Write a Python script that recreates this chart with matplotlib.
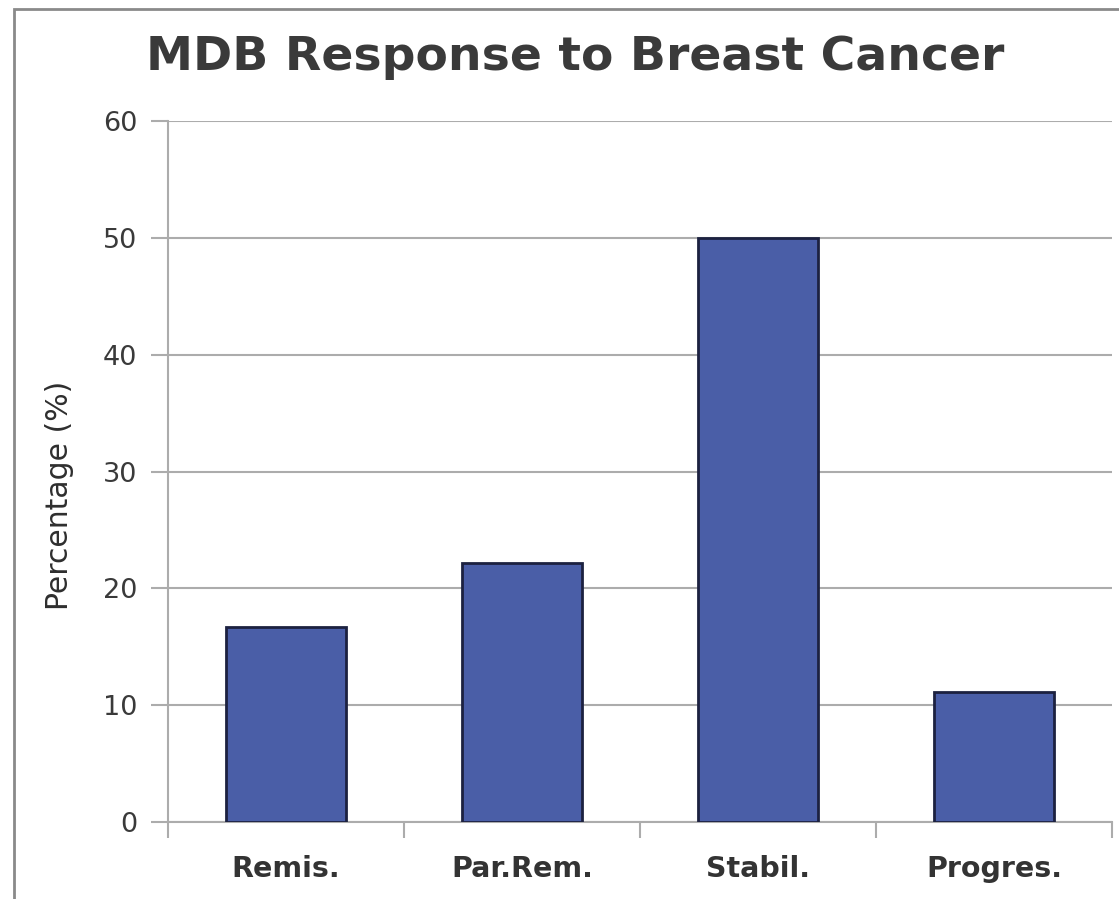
import matplotlib
matplotlib.use("Agg")
import matplotlib.pyplot as plt
from matplotlib.patches import Rectangle
import numpy as np

# Response categories and the share of patients in each (%)
categories = ["Remis.", "Par.Rem.", "Stabil.", "Progres."]
percentages = [16.7, 22.2, 50.0, 11.1]
y_ticks = [0, 10, 20, 30, 40, 50, 60]

title = "MDB Response to Breast Cancer"
y_label = "Percentage (%)"

plt.rcParams["font.family"] = ["DejaVu Sans"]

fig = plt.figure(figsize=(11.19, 8.99), dpi=100)
fig.patch.set_facecolor("white")

# outer chart frame (only the left and top edges fall inside the canvas)
frame = Rectangle((14 / 1119, -0.1), 1.2, (1 - 9 / 899) + 0.1,
                  transform=fig.transFigure, fill=False,
                  edgecolor="#8a8a8a", linewidth=2.0, zorder=0)
fig.patches.append(frame)

ax = fig.add_axes([168 / 1119, 1 - 822 / 899, 944 / 1119, (822 - 121) / 899])

x = np.arange(len(categories))
ax.bar(x, percentages, width=0.51, color="#4a5ea7", edgecolor="#1c2140",
       linewidth=2.0, zorder=3)

ax.set_xlim(-0.5, len(categories) - 0.5)
ax.set_ylim(0, 60)

grid_color = "#acacac"
ax.set_yticks(y_ticks)
ax.yaxis.grid(True, color=grid_color, linewidth=1.5, zorder=0)
ax.set_axisbelow(True)

# category labels sit between boundary ticks
ax.set_xticks(x)
ax.set_xticklabels(categories, fontsize=20.5, fontweight="bold", color="#333333")
ax.tick_params(axis="x", which="major", length=0, pad=24)
ax.set_xticks(np.arange(len(categories) + 1) - 0.5, minor=True)
ax.tick_params(axis="x", which="minor", length=11.5, width=1.5,
               color=grid_color, direction="out")

ax.tick_params(axis="y", length=12, width=1.5, color=grid_color,
               labelsize=19.5, labelcolor="#3a3a3a", pad=10)

for side in ("top", "right"):
    ax.spines[side].set_visible(False)
for side in ("left", "bottom"):
    ax.spines[side].set_color(grid_color)
    ax.spines[side].set_linewidth(1.5)

ax.set_ylabel(y_label, fontsize=21.5, color="#2e2e2e", labelpad=21, y=0.466)

fig.text(575 / 1119, 1 - 58 / 899, title, ha="center", va="center",
         fontsize=34, fontweight="bold", color="#3a3a3a")

fig.savefig("out.png", dpi=100, facecolor="white")
